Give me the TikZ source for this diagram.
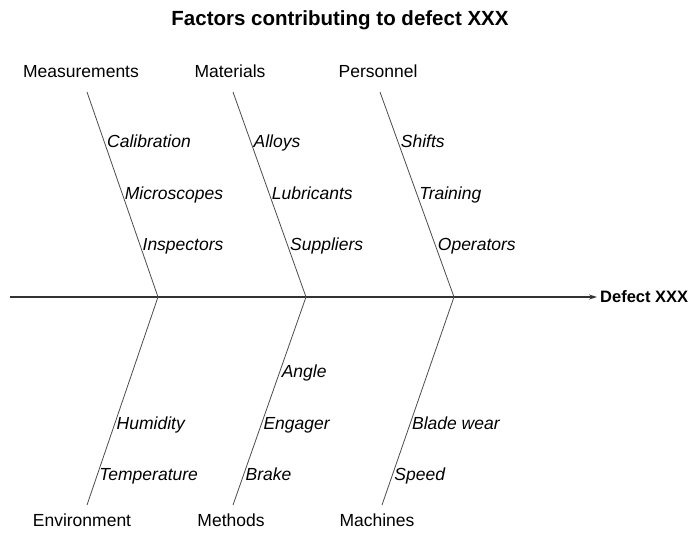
\documentclass[tikz,border=0pt]{standalone}
\usepackage{fontspec}
\setmainfont{Liberation Sans}
\usetikzlibrary{arrows.meta}

\tikzset{
  category/.style={font=\fontsize{17.5}{20}\selectfont, inner sep=1pt, text height=12pt, text depth=3pt},
  cause/.style={font=\fontsize{17.5}{20}\selectfont\itshape, anchor=west, inner sep=2pt, text height=12pt, text depth=3pt},
  bone/.style={draw=black!70, line width=.8pt},
  spine/.style={draw=black!80, line width=1.2pt, -{Stealth[length=8pt,width=5pt]}}
}

\begin{document}
\begin{tikzpicture}[x=1pt,y=-1pt]
        \useasboundingbox (0,0) rectangle (696,533);

        \node[font=\fontsize{20.5}{24}\selectfont\bfseries] (title) at (340,20) {Factors contributing to defect XXX};

        % spine and effect
        \coordinate (0) at (10,297);
        \node[font=\fontsize{16.5}{20}\selectfont\bfseries, anchor=west, inner sep=3pt] (eff) at (597,297) {Defect XXX};
        \path[spine] (0) -- (eff);

        % junctions on the spine
        \coordinate (j1) at (158,297);
        \coordinate (j2) at (306,297);
        \coordinate (j3) at (454,297);

        % free ends of the bones
        \coordinate (t1) at (87,92);
        \coordinate (t2) at (233,92);
        \coordinate (t3) at (380,92);
        \coordinate (b1) at (87,505);
        \coordinate (b2) at (233,505);
        \coordinate (b3) at (382,505);

        \begin{scope}[every node/.style={category}]
          \node (1) at (81,73)  {Measurements};
          \node (2) at (230,73) {Materials};
          \node (3) at (378,73) {Personnel};
          \node (4) at (82,522) {Environment};
          \node (5) at (231,522) {Methods};
          \node (6) at (377,522) {Machines};
        \end{scope}

        \begin{scope}[every node/.style={cause}]

          \begin{scope}[every edge/.style={bone}]
            \path (t1) edge node[pos=.25] {Calibration} node[pos=.5] {Microscopes} node[pos=.75] {Inspectors} (j1);
            \path (t2) edge node[pos=.25] {Alloys} node[pos=.5] {Lubricants} node[pos=.75] {Suppliers} (j2);
            \path (t3) edge node[pos=.25] {Shifts} node[pos=.5] {Training} node[pos=.75] {Operators} (j3);
            \path (j1) edge node[pos=.615] {Humidity} node[pos=.86] {Temperature} (b1);
            \path (j2) edge node[pos=.365] {Angle} node[pos=.615] {Engager} node[pos=.86] {Brake} (b2);
            \path (j3) edge node[pos=.615] {Blade wear} node[pos=.86] {Speed} (b3);
          \end{scope}
        \end{scope}

      \end{tikzpicture}
\end{document}
